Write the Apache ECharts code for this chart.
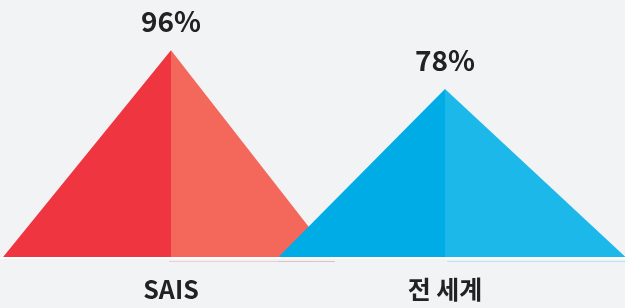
<!DOCTYPE html>
<html><head><meta charset="utf-8">
<script src="https://cdn.jsdelivr.net/npm/echarts@6/dist/echarts.min.js"></script>
<style>html,body{margin:0;padding:0;background:#f2f3f5}#c{width:625px;height:308px}</style>
</head><body><div id="c"></div>
<script>
const categories = ['SAIS', '전 세계'];
const values = [96, 78];
const darkColors = ['#ef3540', '#00ace6'];
const lightColors = ['#f3685b', '#1db8ea'];

// shape styling per triangle: base width (px), apex position as fraction of width
const shapeWidths = [330, 348];
const apexFractions = [0.51, 0.48];

const chart = echarts.init(document.getElementById('c'));
const data = values.map((v, i) => {
  const a = apexFractions[i];
  const w = shapeWidths[i];
  return {
    value: v,
    symbol: 'path://M0,10 L10,10 L' + (a * 10).toFixed(2) + ',0 z',
    symbolSize: [w, '100%'],
    symbolOffset: [w * (0.5 - a), 0],
    itemStyle: {
      color: {
        type: 'linear', x: 0, y: 0, x2: 1, y2: 0,
        colorStops: [
          {offset: 0, color: darkColors[i]},
          {offset: a, color: darkColors[i]},
          {offset: a, color: lightColors[i]},
          {offset: 1, color: lightColors[i]}
        ]
      }
    }
  };
});
chart.setOption({
  backgroundColor: '#f2f3f5',
  animation: false,
  grid: [
    {left: 34, width: 548, top: 41.5, bottom: 50.5},
    {left: 0, right: 0, top: 41.5, bottom: 50.5}
  ],
  xAxis: [{
    type: 'category', data: categories, gridIndex: 0, position: 'bottom',
    axisTick: {show: false},
    axisLine: {show: false},
    axisLabel: {fontFamily: 'Noto Sans CJK KR', fontWeight: 'bold', fontSize: 25, color: '#222', margin: 19}
  }, {
    type: 'category', data: categories, gridIndex: 1, position: 'bottom', offset: 1, z: 10,
    axisTick: {show: false}, axisLabel: {show: false},
    axisLine: {lineStyle: {color: '#ffffff', width: 2}}
  }, {
    type: 'category', data: categories, gridIndex: 1, position: 'bottom', offset: 3.5,
    axisTick: {show: false}, axisLabel: {show: false},
    axisLine: {lineStyle: {width: 1, color: {
      type: 'linear', x: 0, y: 0, x2: 1, y2: 0,
      colorStops: [
        {offset: 0, color: 'rgba(0,0,0,0)'},
        {offset: 0.273, color: 'rgba(0,0,0,0)'},
        {offset: 0.273, color: '#f3c9cb'},
        {offset: 0.445, color: '#f3c9cb'},
        {offset: 0.445, color: '#d8c3cc'},
        {offset: 0.536, color: '#d8c3cc'},
        {offset: 0.536, color: 'rgba(0,0,0,0)'},
        {offset: 0.713, color: 'rgba(0,0,0,0)'},
        {offset: 0.713, color: '#b9e2f2'},
        {offset: 1, color: '#b9e2f2'}
      ]
    }}}
  }],
  yAxis: [
    {type: 'value', min: 0, max: 100, show: false, gridIndex: 0},
    {type: 'value', min: 0, max: 100, show: false, gridIndex: 1}
  ],
  series: [{
    type: 'pictorialBar',
    xAxisIndex: 0, yAxisIndex: 0,
    clip: false,
    label: {
      show: true, position: 'top', distance: 15,
      formatter: '{c}%',
      fontFamily: 'Noto Sans CJK KR', fontWeight: 'bold', fontSize: 28, color: '#222'
    },
    data: data
  }]
});
</script></body></html>
